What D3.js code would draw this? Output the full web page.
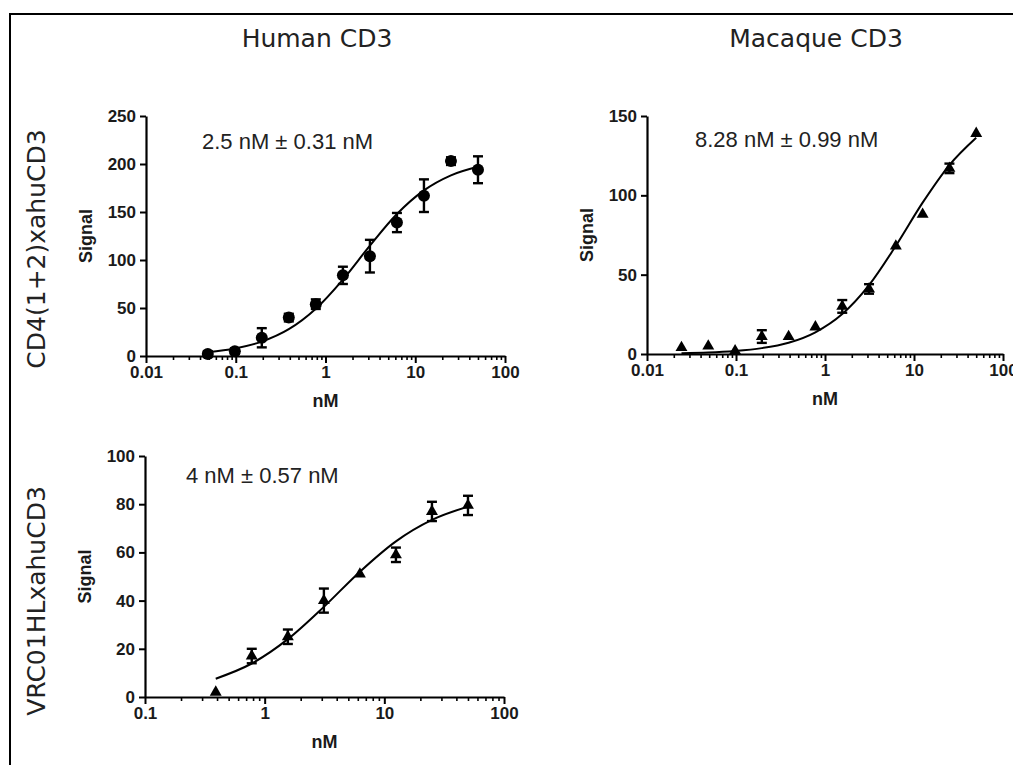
<!DOCTYPE html>
<html>
<head>
<meta charset="utf-8">
<script src="https://cdn.jsdelivr.net/npm/d3@7"></script>
<style>
    body { margin: 0; background: #fff; }
    svg { display: block; }
    .tick text { font-family: "Liberation Sans", Arial, sans-serif; font-weight: bold; font-size: 17px; fill: #1a1a1a; }
</style>
</head>
<body>
<div id="chart-container"></div>
<script>
// Column / row headings
const colTitles = ["Human CD3", "Macaque CD3"];
const rowTitles = ["CD4(1+2)xahuCD3", "VRC01HLxahuCD3"];

// Panel A: CD4(1+2)xahuCD3 on human CD3
const concA   = [0.0488, 0.0977, 0.195, 0.39, 0.78, 1.5625, 3.125, 6.25, 12.5, 25, 50];
const signalA = [2, 5, 19, 40, 54, 84, 104, 139, 167, 203, 194];
const errA    = [3, 3, 10, 4, 5, 9, 17, 10, 17, 4, 14];
const fitA    = [4, 7.8, 15, 27.9, 49.2, 79.6, 115, 147.9, 172.5, 188.2, 197.1];
const xTicksA = [0.01, 0.1, 1, 10, 100];
const yTicksA = [0, 50, 100, 150, 200, 250];
const noteA   = "2.5 nM \u00b1 0.31 nM";

// Panel B: CD4(1+2)xahuCD3 on macaque CD3
const concB   = [0.0244, 0.0488, 0.0977, 0.195, 0.39, 0.78, 1.5625, 3.125, 6.25, 12.5, 25, 50];
const signalB = [4, 5, 2, 11, 11, 17, 30, 41, 68, 88, 117, 139];
const errB    = [0, 0, 0, 4, 0, 0, 4, 3, 0, 0, 3, 0];
const fitB    = [0.5, 0.9, 1.9, 3.7, 7.1, 13.7, 25.2, 43.4, 68.2, 95.4, 119.1, 136.3];
const xTicksB = [0.01, 0.1, 1, 10, 100];
const yTicksB = [0, 50, 100, 150];
const noteB   = "8.28 nM \u00b1 0.99 nM";

// Panel C: VRC01HLxahuCD3 on human CD3
const concC   = [0.39, 0.78, 1.5625, 3.125, 6.25, 12.5, 25, 50];
const signalC = [2, 17, 25, 40, 51, 59, 77, 79.5];
const errC    = [0, 3, 3, 5, 0, 3, 4, 4];
const fitC    = [7.6, 13.9, 24, 37.4, 52, 64.6, 73.5, 79];
const xTicksC = [0.1, 1, 10, 100];
const yTicksC = [0, 20, 40, 60, 80, 100];
const noteC   = "4 nM \u00b1 0.57 nM";

const width = 1013, height = 765;

const svg = d3.select("#chart-container").append("svg")
    .attr("width", width)
    .attr("height", height);

// frame (top and left edges)
svg.append("path")
    .attr("d", `M10,${height} V14 H${width}`)
    .attr("fill", "none")
    .attr("stroke", "#000")
    .attr("stroke-width", 2);

// column titles
const colX = [317, 816];
colTitles.forEach((t, i) => {
    svg.append("text")
        .attr("x", colX[i])
        .attr("y", 47)
        .attr("text-anchor", "middle")
        .style("font-family", "'DejaVu Sans', sans-serif")
        .style("font-size", "25px")
        .style("fill", "#222")
        .text(t);
});

// row titles
const rowY = [249, 601];
rowTitles.forEach((t, i) => {
    svg.append("text")
        .attr("transform", `translate(45, ${rowY[i]}) rotate(-90)`)
        .attr("text-anchor", "middle")
        .style("font-family", "'DejaVu Sans', sans-serif")
        .style("font-size", "25px")
        .style("fill", "#222")
        .text(t);
});

const panels = [
    {conc: concA, signal: signalA, err: errA, fit: fitA, xTicks: xTicksA, yTicks: yTicksA, note: noteA,
     marker: "circle", left: 146, right: 505, top: 116, bottom: 356, noteX: 202, noteY: 149},
    {conc: concB, signal: signalB, err: errB, fit: fitB, xTicks: xTicksB, yTicks: yTicksB, note: noteB,
     marker: "triangle", left: 647, right: 1003, top: 116, bottom: 354, noteX: 695, noteY: 147},
    {conc: concC, signal: signalC, err: errC, fit: fitC, xTicks: xTicksC, yTicks: yTicksC, note: noteC,
     marker: "triangle", left: 145, right: 504, top: 456, bottom: 697, noteX: 186, noteY: 483}
];

panels.forEach(drawPanel);

function drawPanel(p) {
    const g = svg.append("g");
    const xDom = [p.xTicks[0], p.xTicks[p.xTicks.length - 1]];
    const yDom = [p.yTicks[0], p.yTicks[p.yTicks.length - 1]];

    const x = d3.scaleLog().domain(xDom).range([p.left, p.right]);
    const y = d3.scaleLinear().domain(yDom).range([p.bottom, p.top]);

    // minor log ticks (2..9 in each decade)
    const minor = x.ticks().filter(v => !p.xTicks.some(t => Math.abs(t - v) / t < 1e-6));
    g.append("g")
        .attr("transform", `translate(0, ${p.bottom})`)
        .call(d3.axisBottom(x).tickValues(minor).tickSize(4).tickFormat(""))
        .call(a => a.select(".domain").remove())
        .selectAll("line").attr("stroke-width", 1.6);

    // X axis
    const xAxis = g.append("g")
        .attr("transform", `translate(0, ${p.bottom})`)
        .call(d3.axisBottom(x).tickValues(p.xTicks).tickSize(7).tickSizeOuter(0).tickPadding(3)
            .tickFormat(d => String(d)));
    xAxis.select(".domain").attr("stroke-width", 2.2);
    xAxis.selectAll(".tick line").attr("stroke-width", 2);

    // Y axis
    const yAxis = g.append("g")
        .attr("transform", `translate(${p.left}, 0)`)
        .call(d3.axisLeft(y).tickValues(p.yTicks).tickSize(6).tickSizeOuter(0).tickPadding(4));
    yAxis.select(".domain").attr("stroke-width", 2.2);
    yAxis.selectAll(".tick line").attr("stroke-width", 2);

    // axis labels
    g.append("text")
        .attr("x", (p.left + p.right) / 2)
        .attr("y", p.bottom + 51)
        .attr("text-anchor", "middle")
        .style("font-family", "'Liberation Sans', Arial, sans-serif")
        .style("font-weight", "bold")
        .style("font-size", "18px")
        .style("fill", "#1a1a1a")
        .text("nM");

    g.append("text")
        .attr("transform", `translate(${p.left - 54}, ${(p.top + p.bottom) / 2}) rotate(-90)`)
        .attr("text-anchor", "middle")
        .style("font-family", "'Liberation Sans', Arial, sans-serif")
        .style("font-weight", "bold")
        .style("font-size", "18px")
        .style("fill", "#1a1a1a")
        .text("Signal");

    // EC50 note
    g.append("text")
        .attr("x", p.noteX)
        .attr("y", p.noteY)
        .style("font-family", "'Liberation Sans', Arial, sans-serif")
        .style("font-size", "22px")
        .style("fill", "#222")
        .text(p.note);

    // fitted curve
    const line = d3.line()
        .x(d => x(d[0]))
        .y(d => y(d[1]))
        .curve(d3.curveMonotoneX);
    g.append("path")
        .datum(d3.zip(p.conc, p.fit))
        .attr("fill", "none")
        .attr("stroke", "#000")
        .attr("stroke-width", 2)
        .attr("d", line);

    const pts = p.conc.map((c, i) => ({c: c, v: p.signal[i], e: p.err[i]}));

    // error bars
    const bars = g.selectAll(".err")
        .data(pts.filter(d => d.e > 0))
        .enter().append("g")
        .attr("class", "err")
        .attr("stroke", "#000")
        .attr("stroke-width", 2.4);
    bars.append("line")
        .attr("x1", d => x(d.c)).attr("x2", d => x(d.c))
        .attr("y1", d => y(d.v - d.e)).attr("y2", d => y(d.v + d.e));
    bars.append("line")
        .attr("x1", d => x(d.c) - 5).attr("x2", d => x(d.c) + 5)
        .attr("y1", d => y(d.v + d.e)).attr("y2", d => y(d.v + d.e));
    bars.append("line")
        .attr("x1", d => x(d.c) - 5).attr("x2", d => x(d.c) + 5)
        .attr("y1", d => y(d.v - d.e)).attr("y2", d => y(d.v - d.e));

    // markers
    if (p.marker === "circle") {
        g.selectAll(".dot")
            .data(pts)
            .enter().append("circle")
            .attr("class", "dot")
            .attr("cx", d => x(d.c))
            .attr("cy", d => y(d.v))
            .attr("r", 6)
            .style("fill", "#000");
    } else {
        g.selectAll(".dot")
            .data(pts)
            .enter().append("path")
            .attr("class", "dot")
            .attr("transform", d => `translate(${x(d.c)}, ${y(d.v)})`)
            .attr("d", d3.symbol().type(d3.symbolTriangle).size(62))
            .style("fill", "#000");
    }
}
</script>
</body>
</html>
